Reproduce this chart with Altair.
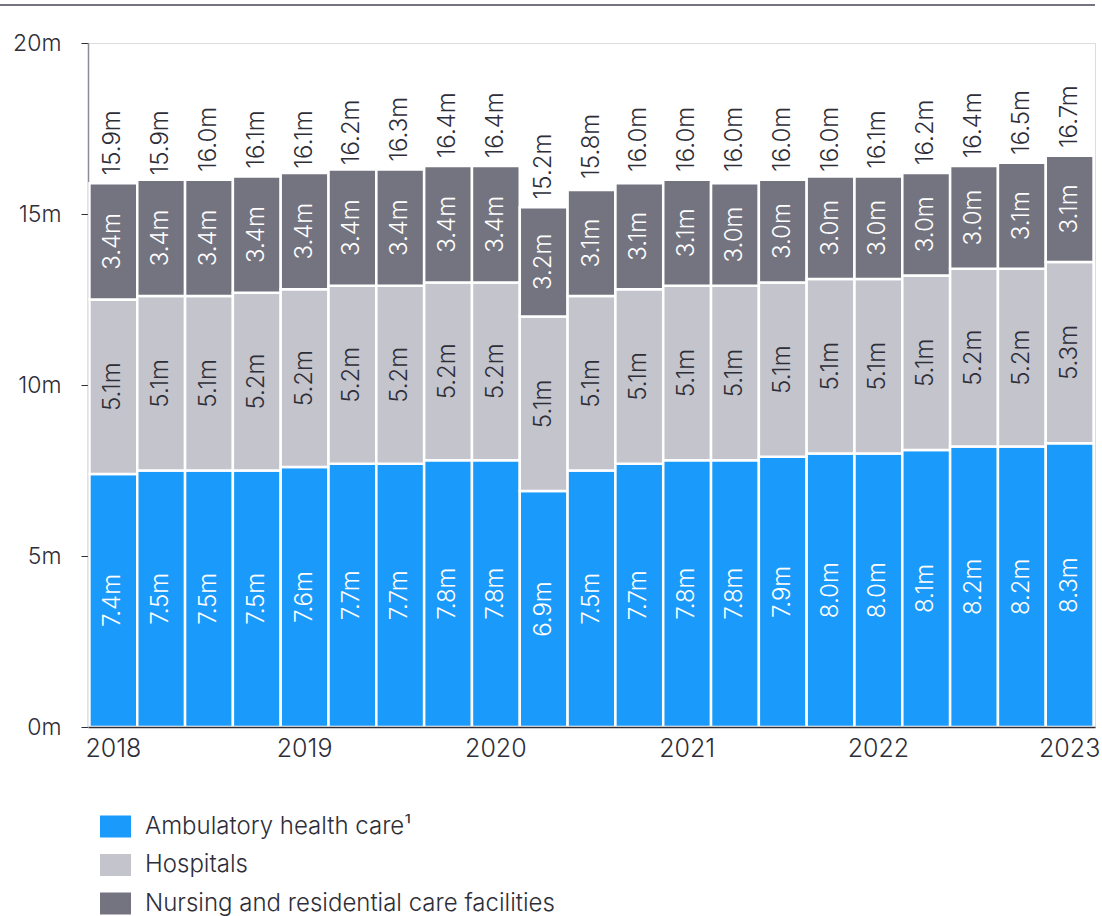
import altair as alt
import pandas as pd

periods = ["2018 Q1", "2018 Q2", "2018 Q3", "2018 Q4",
           "2019 Q1", "2019 Q2", "2019 Q3", "2019 Q4",
           "2020 Q1", "2020 Q2", "2020 Q3", "2020 Q4",
           "2021 Q1", "2021 Q2", "2021 Q3", "2021 Q4",
           "2022 Q1", "2022 Q2", "2022 Q3", "2022 Q4",
           "2023 Q1"]
ambulatory = [7.4, 7.5, 7.5, 7.5, 7.6, 7.7, 7.7, 7.8, 7.8, 6.9, 7.5, 7.7,
              7.8, 7.8, 7.9, 8.0, 8.0, 8.1, 8.2, 8.2, 8.3]
hospitals = [5.1, 5.1, 5.1, 5.2, 5.2, 5.2, 5.2, 5.2, 5.2, 5.1, 5.1, 5.1,
             5.1, 5.1, 5.1, 5.1, 5.1, 5.1, 5.2, 5.2, 5.3]
nursing = [3.4, 3.4, 3.4, 3.4, 3.4, 3.4, 3.4, 3.4, 3.4, 3.2, 3.1, 3.1,
           3.1, 3.0, 3.0, 3.0, 3.0, 3.0, 3.0, 3.1, 3.1]
totals = [15.9, 15.9, 16.0, 16.1, 16.1, 16.2, 16.3, 16.4, 16.4, 15.2, 15.8, 16.0,
          16.0, 16.0, 16.0, 16.0, 16.1, 16.2, 16.4, 16.5, 16.7]

series_names = ["Ambulatory health care\u00b9", "Hospitals",
                "Nursing and residential care facilities"]
series_colors = ["#1a9afa", "#c4c4cd", "#747480"]
label_colors = ["#ffffff", "#2e2e38", "#ffffff"]

FONT = "Inter"
WEIGHT = 300
TXT = "#2e2e38"

rows = []
for i, p in enumerate(periods):
    for k, vals in enumerate([ambulatory, hospitals, nursing]):
        rows.append({"period": p, "series": series_names[k], "order": k,
                     "value": vals[i], "tc": label_colors[k]})
df = pd.DataFrame(rows)
tot_df = pd.DataFrame({"period": periods, "total": totals})

W, H = 1007, 684

x_enc = alt.X("period:N", sort=periods,
              scale=alt.Scale(paddingInner=0.0, paddingOuter=0.03),
              axis=alt.Axis(title=None, labelAngle=0, ticks=False,
                            labelExpr="indexof(datum.value, 'Q1') > 0 ? slice(datum.value, 0, 4) : ''",
                            labelFont=FONT, labelFontWeight=WEIGHT, labelFontSize=25,
                            labelColor=TXT, labelPadding=9, domainColor=TXT,
                            domainWidth=1.5, zindex=1))

base = alt.Chart(df).transform_stack(
    stack="value", groupby=["period"], as_=["y0", "y1"],
    sort=[alt.SortField("order", order="ascending")]
)

bars = base.mark_bar(stroke="white", strokeWidth=2.5).encode(
    x=x_enc,
    y=alt.Y("y0:Q", scale=alt.Scale(domain=[0, 20]),
            axis=alt.Axis(title=None, values=[0, 5, 10, 15, 20],
                          labelExpr="datum.value + 'm'", grid=False,
                          labelFont=FONT, labelFontWeight=WEIGHT, labelFontSize=23,
                          labelColor=TXT, labelPadding=20, tickSize=7, tickColor=TXT,
                          domainColor="#8c8c94", domainWidth=1.5)),
    y2="y1:Q",
    color=alt.Color("series:N", sort=series_names,
                    scale=alt.Scale(domain=series_names, range=series_colors),
                    legend=alt.Legend(title=None, orient="none", direction="vertical",
                                      legendX=12, legendY=768,
                                      symbolType="M-1,-0.71H1V0.71H-1Z",
                                      symbolSize=961, symbolStrokeWidth=0,
                                      labelFont=FONT, labelFontWeight=WEIGHT,
                                      labelFontSize=24, labelColor=TXT,
                                      labelOffset=14, rowPadding=10.5, padding=0,
                                      labelLimit=700)),
)

seg_labels = base.transform_calculate(
    mid="(datum.y0 + datum.y1) / 2",
    lab="format(datum.value, '.1f') + 'm'"
).mark_text(angle=270, align="center", baseline="middle",
            font=FONT, fontWeight=WEIGHT, fontSize=24).encode(
    x=alt.X("period:N", sort=periods),
    y="mid:Q",
    text="lab:N",
    color=alt.Color("tc:N", scale=None),
)

tot_labels = alt.Chart(tot_df).transform_calculate(
    lab="format(datum.total, '.1f') + 'm'"
).mark_text(angle=270, align="left", baseline="middle", dx=8,
            font=FONT, fontWeight=WEIGHT, fontSize=24, color=TXT).encode(
    x=alt.X("period:N", sort=periods),
    y="total:Q",
    text="lab:N",
)

top_rule = alt.Chart(tot_df).mark_rule(color="#747480", strokeWidth=2).encode(
    x=alt.value(-88), x2=alt.value(W), y=alt.value(-38)
)

chart = alt.layer(bars, seg_labels, tot_labels, top_rule).properties(
    width=W, height=H,
    autosize=alt.AutoSizeParams(type="none"),
    padding={"left": 88, "top": 43, "right": 7, "bottom": 189},
).configure_view(stroke=None).configure(background="white")

chart.save("out.html", embed_options={"renderer": "svg", "actions": False})
